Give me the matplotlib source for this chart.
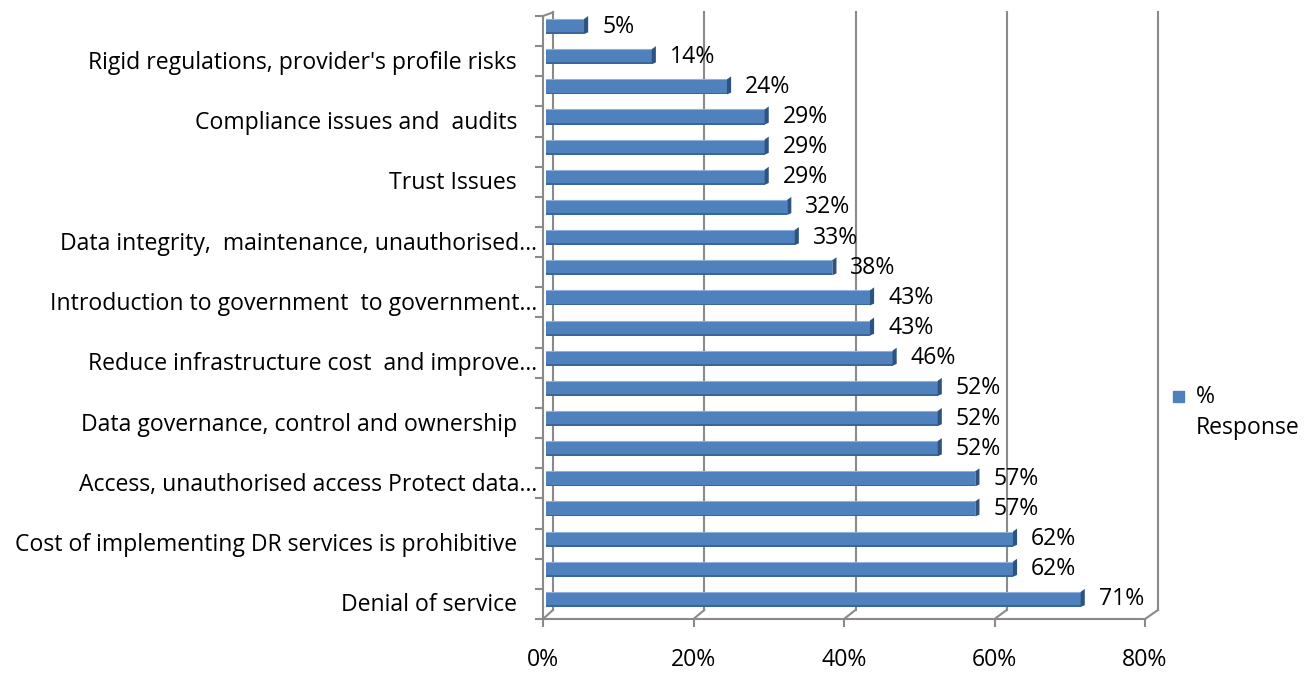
import matplotlib.pyplot as plt
from matplotlib.patches import Polygon, Rectangle

plt.rcParams['font.family'] = ['Open Sans', 'DejaVu Sans']

# survey items from bottom to top, only every second one is labelled
categories = ["Denial of service", "",
              "Cost of implementing DR services is prohibitive", "",
              "Access, unauthorised access Protect data…", "",
              "Data governance, control and ownership", "",
              "Reduce infrastructure cost  and improve…", "",
              "Introduction to government  to government…", "",
              "Data integrity,  maintenance, unauthorised…", "",
              "Trust Issues", "",
              "Compliance issues and  audits", "",
              "Rigid regulations, provider's profile risks", ""]
values = [71, 62, 62, 57, 57, 52, 52, 52, 46, 43, 43, 38, 33, 32, 29, 29, 29, 24, 14, 5]
xticks = [0, 20, 40, 60, 80]
series_name = "%\nResponse"

W, H = 1316, 673
fig = plt.figure(figsize=(W / 100, H / 100), dpi=100)
ax = fig.add_axes([543 / W, 1 - 619 / H, 602 / W, 603 / H])
n = len(values)
ax.set_xlim(0, 80)
ax.set_ylim(-0.5, n - 0.5)

grey = '#8a8a8a'
fs = 16.6

# front axes (left and floor edge)
for s in ['top', 'right']:
    ax.spines[s].set_visible(False)
for s in ['left', 'bottom']:
    ax.spines[s].set_color(grey)
    ax.spines[s].set_linewidth(1.5)
ax.set_yticks([i - 0.5 for i in range(n + 1)])
ax.set_yticklabels([])
ax.tick_params(axis='y', length=6, width=1.5, color=grey, direction='out')
ax.set_xticks(xticks)
ax.set_xticklabels([f"{t}%" for t in xticks], fontsize=fs)
ax.tick_params(axis='x', length=6, width=1.5, color=grey, direction='out', pad=15)

# back wall: gridlines shifted back in depth
dx, ybot, ytop = 1.33, -0.2, n - 0.5 + 0.12
for t in xticks:
    xb = t * 1.005 + dx
    ax.plot([xb, xb], [ybot, ytop], color=grey, lw=1.5, clip_on=False, zorder=1)
    ax.plot([t, xb], [-0.5, ybot], color=grey, lw=1.5, clip_on=False, zorder=1)
ax.plot([0, dx], [n - 0.5, ytop], color=grey, lw=1.5, clip_on=False, zorder=1)

# 3-D looking bars
h = 0.5
off = 0.15
x0 = 0.45
ys = [i + off for i in range(n)]
ax.barh(ys, values, height=h, left=x0, color='#4F81BD', zorder=3)
for y, v in zip(ys, values):
    e = x0 + v
    yb, yt = y - h / 2, y + h / 2
    ax.add_patch(Rectangle((x0, yb), v, 0.06, color='#3B6699', zorder=4, lw=0))
    ax.plot([x0, e], [yt, yt], color='#8DB0DE', lw=0.8, zorder=4)
    ax.add_patch(Polygon([(e, yb), (e + 0.55, yb + 0.06), (e + 0.55, yt + 0.1), (e, yt)],
                         closed=True, color='#2E5381', lw=0, zorder=4))
    ax.text(e + 2.4, y, f"{v}%", fontsize=fs, va='center', ha='left', zorder=5)

# category labels on the left
for i, lab in enumerate(categories):
    if not lab:
        continue
    xr = -6 if lab.endswith('…') else -26
    ax.annotate(lab, xy=(0, i - 0.05), xytext=(xr * 0.72, 0), textcoords='offset points',
                ha='right', va='center', fontsize=fs, annotation_clip=False)

# legend
fig.patches.append(Rectangle((1173 / W, 1 - 402 / H), 11 / W, 11 / H,
                             transform=fig.transFigure, color='#4F81BD'))
name1, name2 = series_name.split("\n")
fig.text(1196 / W, 1 - 397 / H, name1, fontsize=fs, va='center', ha='left')
fig.text(1196 / W, 1 - 428 / H, name2, fontsize=fs, va='center', ha='left')

fig.savefig("out.png", dpi=100)
